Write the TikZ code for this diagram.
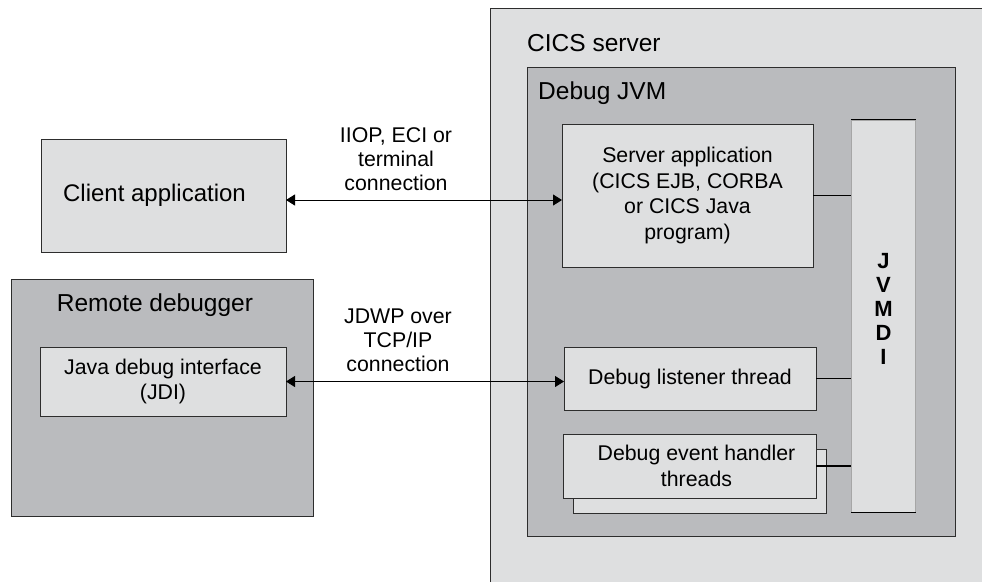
\documentclass[tikz,border=0pt]{standalone}
\usepackage{fontspec}
\setmainfont{Liberation Sans}
\usetikzlibrary{arrows.meta}
\definecolor{palegray}{RGB}{222,223,224}
\definecolor{midgray}{RGB}{186,187,190}
\definecolor{edgegray}{RGB}{45,45,45}
\tikzstyle{box} = [draw=edgegray, line width=1pt, fill=palegray, inner sep=0pt, outer sep=0pt, align=center, font=\fontsize{21.3}{25.5}\selectfont]
\tikzstyle{heading} = [anchor=west, inner sep=0pt, font=\fontsize{24.5}{28}\selectfont]
\tikzstyle{note} = [align=center, inner sep=0pt, font=\fontsize{21.3}{24}\selectfont]
\tikzstyle{arrow} = [{Triangle[length=9pt,width=11pt]}-{Triangle[length=9pt,width=11pt]}, line width=1pt]
\tikzstyle{link} = [line width=1.2pt]
\tikzstyle{frame} = [draw=edgegray, line width=1pt]

\begin{document}
\begin{tikzpicture}[x=1pt, y=-1pt]
	\useasboundingbox (0,0) rectangle (982,582);
	% CICS server
	\fill[palegray] (490,8) rectangle (982,582);
	\draw[frame] (490,582) -- (490,8) -- (982,8);
	\node[heading](cics) at (527,43){CICS server};
	% debug JVM
	\draw[frame, fill=midgray] (527,67) rectangle (955.5,536.5);
	\node[heading](jvm) at (538,93){Debug JVM};

	\node[box, minimum width=251pt, minimum height=143pt](app) at (687.5,195.5){Server application\\(CICS EJB, CORBA\\or CICS Java\\program)};
	\node[draw=gray!70, line width=0.6pt, fill=palegray, minimum width=63.5pt, minimum height=392pt, inner sep=0pt, align=center, font=\bfseries\fontsize{22}{24}\selectfont](jvmdi) at (883.5,316){J\\V\\M\\D\\I\\[-10pt]};
	\draw[link](jvmdi.north west) -- (jvmdi.north east);
	\draw[link](jvmdi.south west) -- (jvmdi.south east);
	\node[box, minimum width=252pt, minimum height=63pt](listener) at (690,378.5){Debug listener thread};
	\node[box, minimum width=253pt, minimum height=64pt](handlerback) at (699.5,481){};
	\node[box, minimum width=253pt, minimum height=64pt](handler) at (689.5,466){\hspace*{14pt}Debug event handler\\\hspace*{14pt}threads};
	\draw[link](app.east) -- (app.east -| jvmdi.west);
	\draw[link](listener.east) -- (listener.east -| jvmdi.west);
	\draw[link](handler.east) -- (handler.east -| jvmdi.west);

	% client side
	\node[box, font=\fontsize{24}{28}\selectfont, minimum width=245pt, minimum height=113pt](client) at (163.5,195.5){Client application\hspace*{18pt}};
	\draw[frame, fill=midgray] (11,279) rectangle (313,516);
	\node[heading, anchor=center](remote) at (155,305){Remote debugger};
	\node[box, minimum width=246pt, minimum height=69pt](jdi) at (163,381.5){Java debug interface\\(JDI)};

	\draw[arrow]([yshift=-4.5pt]client.east) -- ([yshift=-4.5pt]app.west);
	\draw[arrow](jdi.east) -- (jdi.east -| listener.west);
	\node[note](iiop) at (396,159){IIOP, ECI or\\terminal\\connection};
	\node[note](jdwp) at (398,340){JDWP over\\TCP/IP\\connection};
\end{tikzpicture}
\end{document}
